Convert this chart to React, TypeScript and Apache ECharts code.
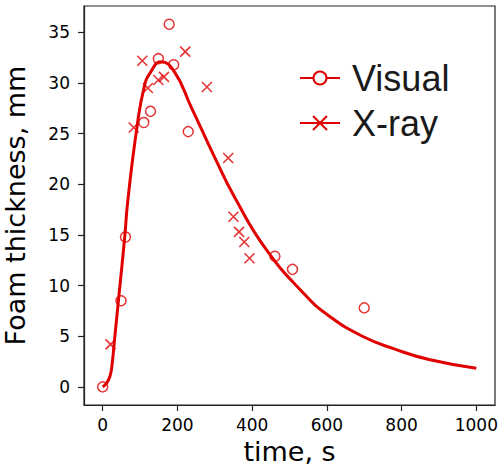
import React, { useEffect, useRef } from "react";
import * as echarts from "echarts";

const visualTime = [0, 49, 61, 110, 128, 149, 178, 190, 229, 461, 508, 700];
const visualThickness = [0, 8.5, 14.8, 26.1, 27.2, 32.4, 35.8, 31.8, 25.2, 12.9, 11.6, 7.8];

const xrayTime = [21, 83, 106, 121, 149, 164, 221, 279, 336, 350, 365, 379, 393];
const xrayThickness = [4.2, 25.6, 32.2, 29.5, 30.3, 30.6, 33.1, 29.6, 22.6, 16.8, 15.3, 14.3, 12.7];

const curveTime = [0, 10, 20, 26, 31, 37, 44, 59, 67, 92, 111, 127, 156, 192, 236, 303, 352, 437, 544, 606, 695, 784, 873, 1000];
const curveThickness = [0, 0.35, 1.1, 2.5, 4.4, 6.6, 9.2, 14.8, 18.3, 25.7, 29.6, 31.0, 32.1, 31.1, 27.7, 22.4, 18.8, 13.6, 9.0, 7.0, 5.0, 3.7, 2.7, 1.84];

const xTicks = [0, 200, 400, 600, 800, 1000];
const yTicks = [0, 5, 10, 15, 20, 25, 30, 35];

const RED = "#e00000";

export default function App() {
  const ref = useRef<HTMLDivElement>(null);
  useEffect(() => {
    if (!ref.current) return;
    const chart = echarts.init(ref.current, null, { renderer: "svg" });
    const tickFont = { fontFamily: "DejaVu Sans", fontSize: 17, color: "#000" };
    chart.setOption({
      animation: false,
      backgroundColor: "#fff",
      grid: {
        left: 84,
        right: 5,
        top: 6,
        bottom: 62,
        show: true,
        containLabel: false,
        outerBoundsMode: "none",
        borderColor: "#222",
        borderWidth: 1.2,
        backgroundColor: "transparent",
      },
      xAxis: {
        type: "value",
        min: -50,
        max: 1050,
        name: "time, s",
        nameLocation: "middle",
        nameGap: 32,
        nameTextStyle: { fontFamily: "DejaVu Sans", fontSize: 27, color: "#000" },
        splitLine: { show: false },
        axisLine: { show: true, onZero: false, lineStyle: { color: "#222", width: 1.2 } },
        axisTick: { show: true, length: 6, customValues: xTicks, lineStyle: { color: "#222", width: 1.2 } },
        axisLabel: { ...tickFont, margin: 11, customValues: xTicks, formatter: (v: number) => String(v) },
      },
      yAxis: {
        type: "value",
        min: -1.79,
        max: 37.6,
        name: "Foam thickness, mm",
        nameLocation: "middle",
        nameGap: 55,
        nameTextStyle: { fontFamily: "DejaVu Sans", fontSize: 27, color: "#000" },
        splitLine: { show: false },
        axisLine: { show: true, onZero: false, lineStyle: { color: "#222", width: 1.2 } },
        axisTick: { show: true, length: 6, customValues: yTicks, lineStyle: { color: "#222", width: 1.2 } },
        axisLabel: { ...tickFont, margin: 14, customValues: yTicks, formatter: (v: number) => String(v) },
      },
      series: [
        {
          name: "Fit",
          type: "line",
          data: curveTime.map((t, i) => [t, curveThickness[i]]),
          smooth: true,
          showSymbol: false,
          symbol: "none",
          lineStyle: { color: RED, width: 3 },
          z: 2,
        },
        {
          name: "Visual",
          type: "scatter",
          data: visualTime.map((t, i) => [t, visualThickness[i]]),
          symbol: "circle",
          symbolSize: 10,
          itemStyle: { color: "transparent", borderColor: RED, borderWidth: 1.5 },
          z: 3,
        },
        {
          name: "X-ray",
          type: "scatter",
          data: xrayTime.map((t, i) => [t, xrayThickness[i]]),
          symbol: "path://M0,0L10,10M10,0L0,10",
          symbolSize: 10,
          itemStyle: { color: "transparent", borderColor: RED, borderWidth: 1.6 },
          z: 3,
        },
      ],
      graphic: [
        { type: "line", shape: { x1: 300, y1: 78, x2: 340, y2: 78 }, style: { stroke: RED, lineWidth: 2 } },
        { type: "circle", shape: { cx: 320, cy: 78, r: 6.5 }, style: { fill: "#fff", stroke: RED, lineWidth: 2 } },
        {
          type: "text",
          x: 352,
          y: 78,
          style: { text: "Visual", fontFamily: "Liberation Sans", fontSize: 36, fill: "#1a1a1a", verticalAlign: "middle", align: "left" },
        },
        { type: "line", shape: { x1: 300, y1: 123, x2: 340, y2: 123 }, style: { stroke: RED, lineWidth: 2 } },
        { type: "line", shape: { x1: 313, y1: 116, x2: 327, y2: 130 }, style: { stroke: RED, lineWidth: 2 } },
        { type: "line", shape: { x1: 313, y1: 130, x2: 327, y2: 116 }, style: { stroke: RED, lineWidth: 2 } },
        {
          type: "text",
          x: 352,
          y: 123,
          style: { text: "X-ray", fontFamily: "Liberation Sans", fontSize: 36, fill: "#1a1a1a", verticalAlign: "middle", align: "left" },
        },
      ],
    });
    return () => chart.dispose();
  }, []);
  return <div ref={ref} style={{ width: 500, height: 467, position: "absolute", left: 0, top: 0 }} />;
}
